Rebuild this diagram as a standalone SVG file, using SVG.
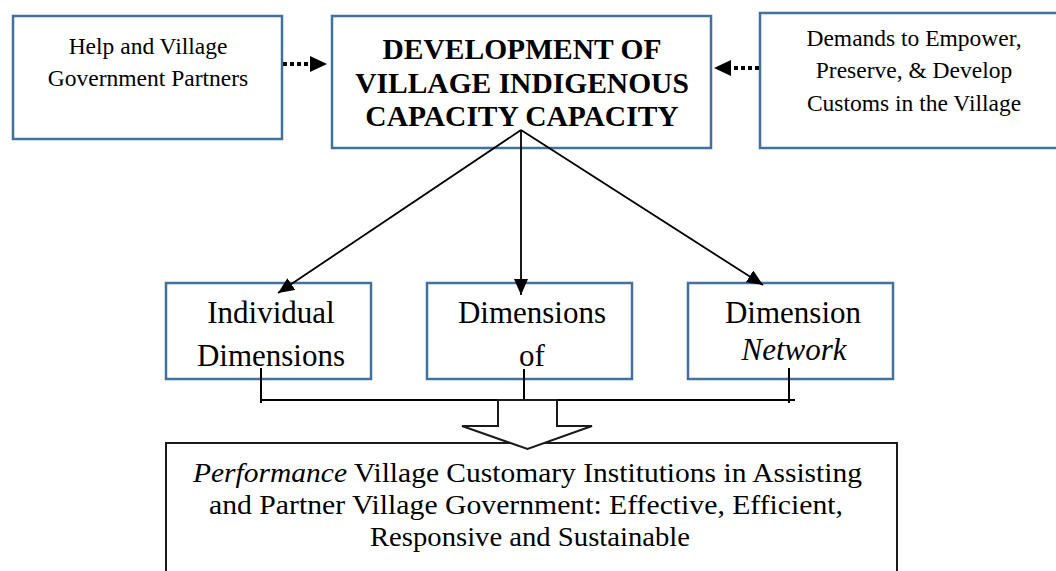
<svg xmlns="http://www.w3.org/2000/svg" width="1056" height="571" viewBox="0 0 1056 571">
  <style>
    .bx { fill: #ffffff; stroke: #41719C; stroke-width: 2.5; }
    .bk { fill: #ffffff; stroke: #1a1a1a; stroke-width: 2; }
    .t { font-family: "Liberation Serif", "Times New Roman", serif; fill: #000000; text-anchor: middle; }
    .s23 { font-size: 23.5px; }
    .b { font-size: 29.5px; font-weight: bold; }
    .m { font-size: 31px; }
    .bt { font-family: "Liberation Serif", "Times New Roman", serif; font-size: 28px; fill: #000000; }
    .ln { stroke: #000000; stroke-width: 1.8; fill: none; }
    .dot { stroke: #000000; stroke-width: 4; stroke-dasharray: 4 3; fill: none; }
    .br { stroke: #000000; stroke-width: 2; fill: none; }
  </style>
  <defs>
    <marker id="arr" markerUnits="userSpaceOnUse" markerWidth="16" markerHeight="14" refX="16" refY="7" orient="auto">
      <path d="M0,0 L16,7 L0,14 z" fill="#000000"/>
    </marker>
    <marker id="arrD" markerUnits="userSpaceOnUse" markerWidth="17" markerHeight="16" refX="0" refY="8" orient="auto">
      <path d="M0,0 L17,8 L0,16 z" fill="#000000"/>
    </marker>
  </defs>
  <rect width="1056" height="571" fill="#ffffff"/>

  <g id="node-help">
    <rect class="bx" x="13" y="16" width="269" height="123"/>
    <text class="t s23" x="148" y="54">Help and Village</text>
    <text class="t s23" x="148" y="86">Government Partners</text>
  </g>

  <g id="node-development">
    <rect class="bx" x="332" y="16" width="379" height="132"/>
    <text class="t b" x="522" y="59">DEVELOPMENT OF</text>
    <text class="t b" x="522" y="93">VILLAGE INDIGENOUS</text>
    <text class="t b" x="522" y="126">CAPACITY CAPACITY</text>
  </g>

  <g id="node-demands">
    <rect class="bx" x="760" y="13" width="310" height="135"/>
    <text class="t s23" x="914" y="45.5">Demands to Empower,</text>
    <text class="t s23" x="914" y="78">Preserve, &amp; Develop</text>
    <text class="t s23" x="914" y="110.5">Customs in the Village</text>
  </g>

  <g id="node-individual">
    <rect class="bx" x="166" y="283" width="205" height="96"/>
    <text class="t m" x="271" y="323">Individual</text>
    <text class="t m" x="271" y="366">Dimensions</text>
  </g>

  <g id="node-dimensions-of">
    <rect class="bx" x="427" y="283" width="205" height="96"/>
    <text class="t m" x="532" y="323">Dimensions</text>
    <text class="t m" x="532" y="366">of</text>
  </g>

  <g id="node-network">
    <rect class="bx" x="688" y="283" width="205" height="96"/>
    <text class="t m" x="793" y="323">Dimension</text>
    <text class="t m" x="794" y="360" font-style="italic">Network</text>
  </g>

  <g id="node-performance">
    <rect class="bk" x="166" y="443" width="731" height="150"/>
    <text class="bt" x="193" y="482" textLength="669" lengthAdjust="spacingAndGlyphs"><tspan font-style="italic">Performance</tspan> Village Customary Institutions in Assisting</text>
    <text class="bt" x="209" y="514" textLength="634" lengthAdjust="spacingAndGlyphs">and Partner Village Government: Effective, Efficient,</text>
    <text class="bt" x="370" y="546" textLength="320" lengthAdjust="spacingAndGlyphs">Responsive and Sustainable</text>
  </g>

  <g id="connectors">
    <line class="dot" x1="283" y1="64" x2="310" y2="64" marker-end="url(#arrD)"/>
    <line class="dot" x1="759" y1="68" x2="731" y2="68" marker-end="url(#arrD)"/>
    <line class="ln" x1="521" y1="130" x2="278" y2="293" marker-end="url(#arr)"/>
    <line class="ln" x1="521" y1="130" x2="521" y2="295" marker-end="url(#arr)"/>
    <line class="ln" x1="521" y1="130" x2="763" y2="285" marker-end="url(#arr)"/>
    <path class="br" d="M261,368 V403 M261,400 H795 M789,368 V403 M524,369 V400"/>
    <polygon class="bk" points="498,400 557,400 557,426 592,426 527.5,449 462,426 498,426"/>
  </g>
</svg>
